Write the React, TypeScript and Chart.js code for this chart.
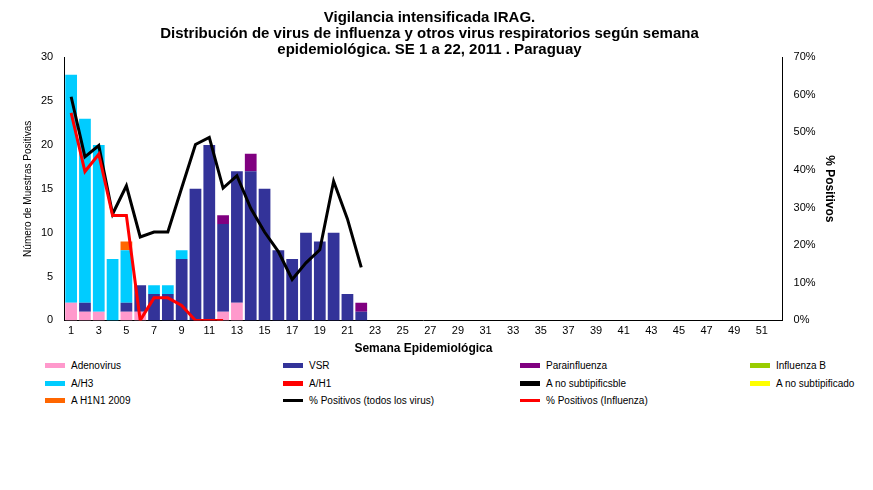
import React, { useEffect, useRef } from "react";
import { Chart, registerables } from "chart.js";
Chart.register(...registerables);

const weeks = Array.from({ length: 52 }, (_, i) => String(i + 1));
const adeno = [2, 1, 1, 0, 1, 1, 0, 0, 0, 0, 0, 1, 2, 0, 0, 0, 0, 0, 0, 0, 0, 0];
const vsr = [0, 1, 0, 0, 1, 3, 3, 3, 7, 15, 20, 10, 15, 17, 15, 8, 7, 10, 9, 10, 3, 1];
const parainf = [0, 0, 0, 0, 0, 0, 0, 0, 0, 0, 0, 1, 0, 2, 0, 0, 0, 0, 0, 0, 0, 1];
const ah3 = [26, 21, 19, 7, 6, 0, 1, 1, 1, 0, 0, 0, 0, 0, 0, 0, 0, 0, 0, 0, 0, 0];
const h1n1 = [0, 0, 0, 0, 1, 0, 0, 0, 0, 0, 0, 0, 0, 0, 0, 0, 0, 0, 0, 0, 0, 0];
const pctAll = [59.5, 43.5, 46.5, 28.3, 35.8, 22.2, 23.5, 23.5, 35.2, 46.8, 48.7, 35.2, 38.5, 29.8, 23.5, 18.3, 10.9, 15.3, 18.8, 37, 27, 14.1];
const pctFlu = [55.2, 39.6, 44.2, 27.9, 27.9, 0, 6, 6, 4, 0, 0, 0];

const legendItems: [string, string, boolean][] = [
  ["Adenovirus", "#FF99CC", false], ["VSR", "#333399", false], ["Parainfluenza", "#800080", false], ["Influenza  B", "#99CC00", false],
  ["A/H3", "#00CCFF", false], ["A/H1", "#FF0000", false], ["A no subtipificsble", "#000000", false], ["A no subtipificado", "#FFFF00", false],
  ["A H1N1 2009", "#FF6600", false], ["% Positivos (todos los virus)", "#000000", true], ["% Positivos (Influenza)", "#FF0000", true],
];
const legendX = [45, 283, 520, 750];
const legendY = [367, 385, 402];

export default function App() {
  const ref = useRef<HTMLCanvasElement>(null);
  useEffect(() => {
    const font = "'Liberation Sans', Arial, sans-serif";
    const bar = (label: string, data: number[], color: string) => ({
      type: "bar" as const, label, data, backgroundColor: color, stack: "s", yAxisID: "y",
      barPercentage: 0.85, categoryPercentage: 1, order: 2,
    });
    const chart = new Chart(ref.current!, {
      type: "bar",
      data: {
        labels: weeks,
        datasets: [
          bar("Adenovirus", adeno, "#FF99CC"),
          bar("VSR", vsr, "#333399"),
          bar("Parainfluenza", parainf, "#800080"),
          bar("A/H3", ah3, "#00CCFF"),
          bar("A H1N1 2009", h1n1, "#FF6600"),
          { type: "line", label: "% Positivos (todos los virus)", data: pctAll, borderColor: "#000", borderWidth: 3, pointRadius: 0, yAxisID: "y1", order: 1 } as any,
          { type: "line", label: "% Positivos (Influenza)", data: pctFlu, borderColor: "#FF0000", borderWidth: 3, pointRadius: 0, yAxisID: "y1", order: 0 } as any,
        ],
      },
      options: {
        animation: false, responsive: false,
        layout: { padding: { top: 0, left: 18, right: 32 } },
        plugins: {
          legend: { display: false }, tooltip: { enabled: false },
          title: {
            display: true, padding: { top: 10, bottom: 0 }, color: "#000",
            text: ["Vigilancia intensificada IRAG.", "Distribución de virus de influenza y otros virus respiratorios según semana", "epidemiológica. SE 1 a 22, 2011 . Paraguay"],
            font: { family: font, size: 15, weight: "bold", lineHeight: 1.05 },
          },
        },
        scales: {
          x: {
            stacked: true, grid: { display: false, drawTicks: true, tickLength: 4 }, border: { color: "#000" },
            ticks: { padding: 0, autoSkip: false, maxRotation: 0, color: "#000", font: { family: font, size: 11 }, callback: (v: any, i: number) => (i % 2 === 0 ? weeks[i] : "") },
            title: { display: true, text: "Semana Epidemiológica", color: "#000", font: { family: font, size: 12, weight: "bold" }, padding: { top: 4 } },
          },
          y: {
            stacked: true, min: 0, max: 30, grid: { display: false }, border: { color: "#000" },
            ticks: { stepSize: 5, color: "#000", font: { family: font, size: 11 } },
            title: { display: true, text: "Número de Muestras Positivas", color: "#000", font: { family: font, size: 10 } },
          },
          y1: {
            position: "right", min: 0, max: 70, grid: { display: false }, border: { color: "#000" },
            ticks: { stepSize: 10, color: "#000", font: { family: font, size: 11 }, callback: (v: any) => v + "%" },
            title: { display: true, text: "% Positivos", color: "#000", font: { family: font, size: 12, weight: "bold" } },
          },
        },
      },
    });
    return () => chart.destroy();
  }, []);
  return (
    <div style={{ position: "absolute", left: 0, top: 0, width: 873, height: 490, background: "#fff", fontFamily: "'Liberation Sans', Arial, sans-serif" }}>
      <canvas ref={ref} width={873} height={360} style={{ position: "absolute", left: 0, top: 0 }} />
      {legendItems.map(([t, c, line], i) => (
        <div key={t} style={{ position: "absolute", left: legendX[i % 4], top: legendY[Math.floor(i / 4)] - 7, fontSize: 10, display: "flex", alignItems: "center", whiteSpace: "nowrap" }}>
          <span style={{ display: "inline-block", width: 20, height: line ? 3 : 5, background: c, marginRight: 6 }} />
          {t}
        </div>
      ))}
    </div>
  );
}
